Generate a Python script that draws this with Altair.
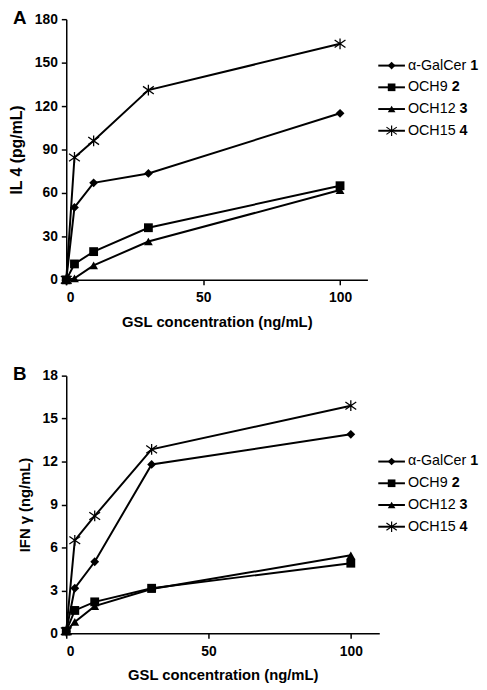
import altair as alt
import pandas as pd

# ---------------- data ----------------
conc = [0, 3, 10, 30, 100]
series = ["α-GalCer", "OCH9", "OCH12", "OCH15"]
numbers = ["1", "2", "3", "4"]

il4_galcer = [0, 50, 67, 73.5, 115]
il4_och9 = [0, 11, 19.5, 36, 65]
il4_och12 = [0, 1, 10, 26.5, 62]
il4_och15 = [0, 84.5, 96, 131, 163]

ifn_galcer = [0.15, 3.15, 5.0, 11.8, 13.9]
ifn_och9 = [0.15, 1.6, 2.2, 3.15, 4.9]
ifn_och12 = [0.15, 0.8, 1.9, 3.1, 5.45]
ifn_och15 = [0.15, 6.5, 8.2, 12.85, 15.9]

FONT = "Liberation Sans"
ASTER = "M0,-1L0,1M-1,-0.7L1,0.7M-1,0.7L1,-0.7"
SHAPES = ["diamond", "square", "triangle-up", ASTER]
LEG_X = 316
LEG_FS = 14.5

# approximate Liberation Sans advance widths (em) for legend layout
CW = {"α": 0.58, "-": 0.333, "G": 0.778, "a": 0.556, "l": 0.222, "C": 0.722,
      "e": 0.556, "r": 0.333, "O": 0.778, "H": 0.722, " ": 0.278}


def text_width(s, size):
    return sum(CW.get(c, 0.556) for c in s) * size


def long_df(vals):
    rows = []
    for name, v in zip(series, vals):
        for c, y in zip(conc, v):
            rows.append({"series": name, "conc": c, "val": y})
    return pd.DataFrame(rows)


def panel(vals, ymax, ystep, ytitle, ytitle_size, letter, w, h, legend_top):
    df = long_df(vals)
    base = alt.Chart(df)
    x = alt.X("conc:Q", scale=alt.Scale(domain=[0, 110], nice=False),
              axis=alt.Axis(values=[0, 50, 100], title="GSL concentration (ng/mL)",
                            labelPadding=6, titlePadding=10))
    y = alt.Y("val:Q", scale=alt.Scale(domain=[0, ymax], nice=False),
              axis=alt.Axis(values=list(range(0, ymax + 1, ystep)), title=ytitle,
                            titleFontSize=ytitle_size, labelPadding=4, titlePadding=10))
    lines = base.mark_line(color="black", strokeWidth=2).encode(
        x=x, y=y, detail="series:N", order="conc:Q")
    filled = base.transform_filter(alt.datum.series != "OCH15").mark_point(
        filled=True, color="black", opacity=1, size=80).encode(
        x=x, y=y,
        shape=alt.Shape("series:N", scale=alt.Scale(domain=series[:3], range=SHAPES[:3]),
                        legend=None))
    star = base.transform_filter(alt.datum.series == "OCH15").mark_point(
        shape=ASTER, filled=False, color="black", strokeWidth=1.3, size=120, opacity=1).encode(
        x=x, y=y)

    layers = [lines, filled, star]
    one = pd.DataFrame({"a": [0]})
    for i, (name, num) in enumerate(zip(series, numbers)):
        ly = legend_top + 22 * i
        layers.append(alt.Chart(one).mark_rule(color="black", strokeWidth=2).encode(
            x=alt.value(LEG_X), x2=alt.value(LEG_X + 27), y=alt.value(ly)))
        if i < 3:
            layers.append(alt.Chart(one).mark_point(shape=SHAPES[i], filled=True, color="black",
                                                    opacity=1, size=60).encode(
                x=alt.value(LEG_X + 13.5), y=alt.value(ly)))
        else:
            layers.append(alt.Chart(one).mark_point(shape=ASTER, filled=False, color="black",
                                                    strokeWidth=1.2, size=110, opacity=1).encode(
                x=alt.value(LEG_X + 13.5), y=alt.value(ly)))
        tx = LEG_X + 30
        layers.append(alt.Chart(one).mark_text(
            text=name + " ", font=FONT, fontSize=LEG_FS, align="left", baseline="middle",
            color="black").encode(x=alt.value(tx), y=alt.value(ly)))
        layers.append(alt.Chart(one).mark_text(
            text=num, font=FONT, fontSize=LEG_FS, fontWeight="bold", align="left",
            baseline="middle", color="black").encode(
            x=alt.value(tx + text_width(name + " ", LEG_FS)), y=alt.value(ly)))
    layers.append(alt.Chart(one).mark_text(
        text=letter, font=FONT, fontSize=19, fontWeight="bold", align="left",
        baseline="middle", color="black").encode(x=alt.value(-54), y=alt.value(-1.5)))
    return alt.layer(*layers).properties(width=w, height=h)


pa = panel([il4_galcer, il4_och9, il4_och12, il4_och15], 180, 30, "IL 4 (pg/mL)", 16, "A",
           305, 264, 47)
pb = panel([ifn_galcer, ifn_och9, ifn_och12, ifn_och15], 18, 3, "IFN  γ (ng/mL)", 15, "B",
           317, 261, 87)

chart = alt.vconcat(pa, pb, spacing=36).properties(
    padding={"left": 0, "top": -4, "right": 0, "bottom": 0}
).configure_axis(
    domainColor="black", domainWidth=1.5, tickColor="black", tickWidth=1.5, tickSize=5,
    labelFont=FONT, labelFontSize=14, labelFontWeight="bold", labelColor="black",
    titleFont=FONT, titleFontSize=15, titleFontWeight="bold", titleColor="black",
    grid=False
).configure_view(stroke=None)

chart.save("out.html", embed_options={"renderer": "svg", "actions": False})
